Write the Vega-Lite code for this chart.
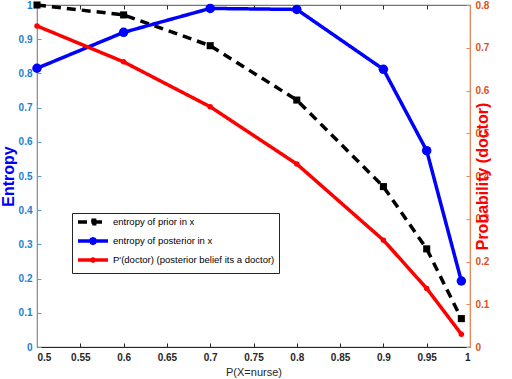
{
  "$schema": "https://vega.github.io/schema/vega-lite/v6.json",
  "width": 433,
  "height": 342,
  "autosize": {"type": "none"},
  "padding": {"left": 37, "top": 5, "right": 42, "bottom": 32},
  "config": {
    "font": "Liberation Sans",
    "view": {"stroke": "#262626", "strokeWidth": 0.8},
    "axis": {"grid": false, "labelFontSize": 10, "labelFontWeight": "bold", "tickSize": -4}
  },
  "data": {
    "values": [
      {"x": 0.5, "series": "entropy of prior in x", "value": 1.0},
      {"x": 0.6, "series": "entropy of prior in x", "value": 0.971},
      {"x": 0.7, "series": "entropy of prior in x", "value": 0.881},
      {"x": 0.8, "series": "entropy of prior in x", "value": 0.722},
      {"x": 0.9, "series": "entropy of prior in x", "value": 0.469},
      {"x": 0.95, "series": "entropy of prior in x", "value": 0.287},
      {"x": 0.99, "series": "entropy of prior in x", "value": 0.083},
      {"x": 0.5, "series": "entropy of posterior in x", "value": 0.815},
      {"x": 0.6, "series": "entropy of posterior in x", "value": 0.92},
      {"x": 0.7, "series": "entropy of posterior in x", "value": 0.99},
      {"x": 0.8, "series": "entropy of posterior in x", "value": 0.987},
      {"x": 0.9, "series": "entropy of posterior in x", "value": 0.812},
      {"x": 0.95, "series": "entropy of posterior in x", "value": 0.574},
      {"x": 0.99, "series": "entropy of posterior in x", "value": 0.193},
      {"x": 0.5, "series": "P'(doctor) (posterior belief its a doctor)", "value": 0.751},
      {"x": 0.6, "series": "P'(doctor) (posterior belief its a doctor)", "value": 0.667},
      {"x": 0.7, "series": "P'(doctor) (posterior belief its a doctor)", "value": 0.562},
      {"x": 0.8, "series": "P'(doctor) (posterior belief its a doctor)", "value": 0.428},
      {"x": 0.9, "series": "P'(doctor) (posterior belief its a doctor)", "value": 0.25},
      {"x": 0.95, "series": "P'(doctor) (posterior belief its a doctor)", "value": 0.137},
      {"x": 0.99, "series": "P'(doctor) (posterior belief its a doctor)", "value": 0.03}
    ]
  },
  "layer": [
    {
      "transform": [{"filter": "datum.series !== \"P'(doctor) (posterior belief its a doctor)\""}],
      "encoding": {
        "x": {
          "field": "x", "type": "quantitative",
          "scale": {"domain": [0.5, 1], "nice": false, "zero": false},
          "axis": {"orient": "bottom", "values": [0.5, 0.55, 0.6, 0.65, 0.7, 0.75, 0.8, 0.85, 0.9, 0.95, 1], "format": "~g", "title": "P(X=nurse)", "titleFontSize": 11, "titleFontWeight": "normal", "titleColor": "#262626", "labelColor": "#262626", "domainColor": "#262626", "tickColor": "#262626", "titlePadding": 4, "labelPadding": 9}
        },
        "y": {
          "field": "value", "type": "quantitative",
          "scale": {"domain": [0, 1], "nice": false},
          "axis": {"orient": "left", "values": [0, 0.1, 0.2, 0.3, 0.4, 0.5, 0.6, 0.7, 0.8, 0.9, 1], "format": "~g", "title": "Entropy", "titleFontSize": 16, "titleFontWeight": "bold", "titleColor": "#0000FF", "labelColor": "#1a7fd0", "domainColor": "#5b9fd8", "tickColor": "#5b9fd8", "titlePadding": 2, "labelPadding": 9}
        }
      },
      "layer": [
        {
          "mark": {"type": "line", "strokeWidth": 3.5},
          "encoding": {
            "color": {"field": "series", "type": "nominal",
              "scale": {"domain": ["entropy of prior in x", "entropy of posterior in x", "P'(doctor) (posterior belief its a doctor)"], "range": ["#000000", "#0000FF", "#FF0000"]},
              "legend": {"orient": "none", "legendX": 35, "legendY": 208, "title": null, "fillColor": "#FFFFFF", "strokeColor": "#262626", "padding": 4, "rowPadding": 0, "labelFontSize": 9.5, "labelColor": "#000000", "labelFont": "Liberation Sans", "labelLimit": 300, "symbolType": "stroke", "symbolSize": 36, "symbolStrokeWidth": 3.5, "symbolOffset": 12, "labelOffset": 15,
                "encode": {"symbols": {"update": {
                  "shape": {"signal": "datum.index === 0 ? 'M-0.55,-0.55H0.55V0.55H-0.55ZM-5,0H5' : datum.index === 1 ? 'M0.75,0L0.53,0.53L0,0.75L-0.53,0.53L-0.75,0L-0.53,-0.53L0,-0.75L0.53,-0.53ZM-5,0H5' : 'M0.35,0L0.25,0.25L0,0.35L-0.25,0.25L-0.35,0L-0.25,-0.25L0,-0.35L0.25,-0.25ZM-5,0H5'"},
                  "fill": {"signal": "datum.index === 0 ? '#000000' : datum.index === 1 ? '#0000FF' : '#FF0000'"},
                  "fillOpacity": {"value": 1}
                }}}}},
            "strokeDash": {"field": "series", "type": "nominal",
              "scale": {"domain": ["entropy of prior in x", "entropy of posterior in x", "P'(doctor) (posterior belief its a doctor)"], "range": [[9, 6], [1, 0], [1, 0]]}}
          }
        },
        {
          "transform": [{"filter": "datum.series === 'entropy of prior in x'"}],
          "mark": {"type": "point", "filled": true, "opacity": 1, "shape": "square", "size": 50, "color": "#000000"}
        },
        {
          "transform": [{"filter": "datum.series === 'entropy of posterior in x'"}],
          "mark": {"type": "point", "filled": true, "opacity": 1, "shape": "circle", "size": 90, "color": "#0000FF"}
        }
      ]
    },
    {
      "transform": [{"filter": "datum.series === \"P'(doctor) (posterior belief its a doctor)\""}],
      "encoding": {
        "x": {
          "field": "x", "type": "quantitative",
          "axis": {"orient": "top", "values": [0.5, 0.55, 0.6, 0.65, 0.7, 0.75, 0.8, 0.85, 0.9, 0.95, 1], "labels": false, "title": null, "domain": false, "tickColor": "#262626"}
        },
        "y": {
          "field": "value", "type": "quantitative",
          "scale": {"domain": [0, 0.8], "nice": false},
          "axis": {"orient": "right", "values": [0, 0.1, 0.2, 0.3, 0.4, 0.5, 0.6, 0.7, 0.8], "format": "~g", "title": "Probability (doctor)", "titleAngle": 270, "titleFontSize": 16, "titleFontWeight": "bold", "titleColor": "#FF0000", "labelColor": "#D95319", "domainColor": "#E8895E", "tickColor": "#E8895E", "titlePadding": 2, "labelPadding": 9}
        }
      },
      "layer": [
        {
          "mark": {"type": "line", "strokeWidth": 3.5},
          "encoding": {
            "color": {"field": "series", "type": "nominal"},
            "strokeDash": {"field": "series", "type": "nominal"}
          }
        },
        {
          "mark": {"type": "point", "filled": true, "opacity": 1, "shape": "circle", "size": 30, "color": "#FF0000"}
        }
      ]
    }
  ],
  "resolve": {"scale": {"y": "independent"}, "axis": {"x": "independent"}}
}
